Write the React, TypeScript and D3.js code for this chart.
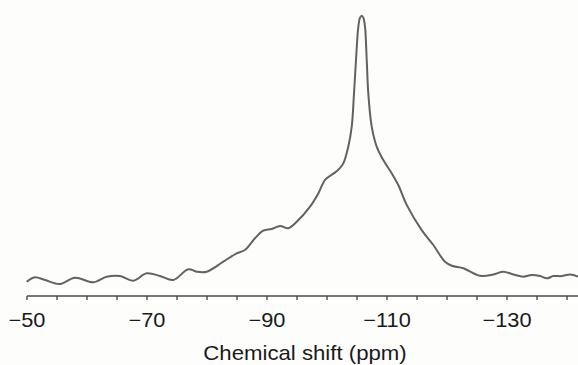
import React from "react";
import * as d3 from "d3";

const ppm: number[] = [
  -49.95, -51.33, -53.0, -55.5, -58.0, -61.05, -63.28, -65.5, -67.72, -69.95,
  -72.17, -74.38, -76.88, -78.28, -79.95, -82.72, -84.95, -86.33, -88.0, -89.38,
  -90.78, -92.17, -93.55, -94.95, -97.17, -98.55, -99.67, -100.6, -101.3, -102.0,
  -102.72, -103.55, -104.12, -104.5, -104.83, -105.22, -105.5, -105.78, -106.05, -106.33,
  -106.62, -106.88, -107.45, -108.28, -109.38, -110.78, -111.88, -113.28, -115.78, -117.72,
  -119.67, -120.8, -122.72, -125.5, -127.72, -129.38, -131.05, -132.72, -134.12, -135.5,
  -136.62, -137.72, -139.12, -140.5, -141.83,
];

const intensity: number[] = [
  5.1, 6.67, 5.71, 4.28, 6.53, 4.89, 6.89, 7.14, 5.46, 8.1,
  7.14, 5.71, 9.53, 8.67, 8.67, 12.24, 15.24, 16.42, 20.6, 23.3,
  23.9, 25.0, 24.2, 26.5, 31.9, 36.6, 41.4, 43.0, 44.0, 45.3,
  47.3, 53.3, 60.4, 72.3, 84.2, 96.1, 99.3, 100, 99.3, 96.1,
  84.2, 72.3, 60.4, 53.3, 48.5, 43.8, 39.6, 32.5, 23.5, 18.2,
  12.2, 10.8, 9.9, 7.2, 7.7, 8.67, 7.7, 6.9, 7.5, 7.1,
  6.3, 7.1, 7.1, 7.7, 6.9,
];

const tickLabels: number[] = [-50, -70, -90, -110, -130];
const minorTicks: number[] = d3.range(-50, -141, -5);
const xTitle = "Chemical shift (ppm)";

export default function App() {
  const W = 578;
  const H = 365;
  const x = d3.scaleLinear().domain([-50, -141.83]).range([27, 578]);
  const y = d3.scaleLinear().domain([0, 100]).range([296, 15.7]);
  const pts = ppm.map((p, i) => [p, intensity[i]] as [number, number]);
  const line = d3
    .line<[number, number]>()
    .x((d) => x(d[0]))
    .y((d) => y(d[1]))
    .curve(d3.curveCatmullRom.alpha(0.5));
  const axisY = 296;
  const font = "'Liberation Sans', Arial, Helvetica, sans-serif";
  return (
    <svg
      width={W}
      height={H}
      style={{ position: "fixed", left: 0, top: 0, background: "#fdfdfb" }}
    >
      <rect x={0} y={0} width={W} height={H} fill="#fdfdfb" />
      <path d={line(pts) || ""} fill="none" stroke="#626262" strokeWidth={2} strokeLinejoin="round" />
      <line x1={x(-50)} x2={W} y1={axisY} y2={axisY} stroke="#4a4a4a" strokeWidth={1.6} />
      {minorTicks.map((t) => (
        <line key={t} x1={x(t)} x2={x(t)} y1={axisY} y2={axisY + 4} stroke="#4a4a4a" strokeWidth={1.4} />
      ))}
      {tickLabels.map((t) => (
        <text
          key={t}
          transform={`translate(${x(t)},326.5) scale(1.09,1)`}
          textAnchor="middle"
          fontFamily={font}
          fontSize={20}
          fill="#1a1a1a"
        >
          {"\u2212" + Math.abs(t)}
        </text>
      ))}
      <text
        transform="translate(305,359.5) scale(1.11,1)"
        textAnchor="middle"
        fontFamily={font}
        fontSize={20}
        fill="#1a1a1a"
      >
        {xTitle}
      </text>
    </svg>
  );
}
